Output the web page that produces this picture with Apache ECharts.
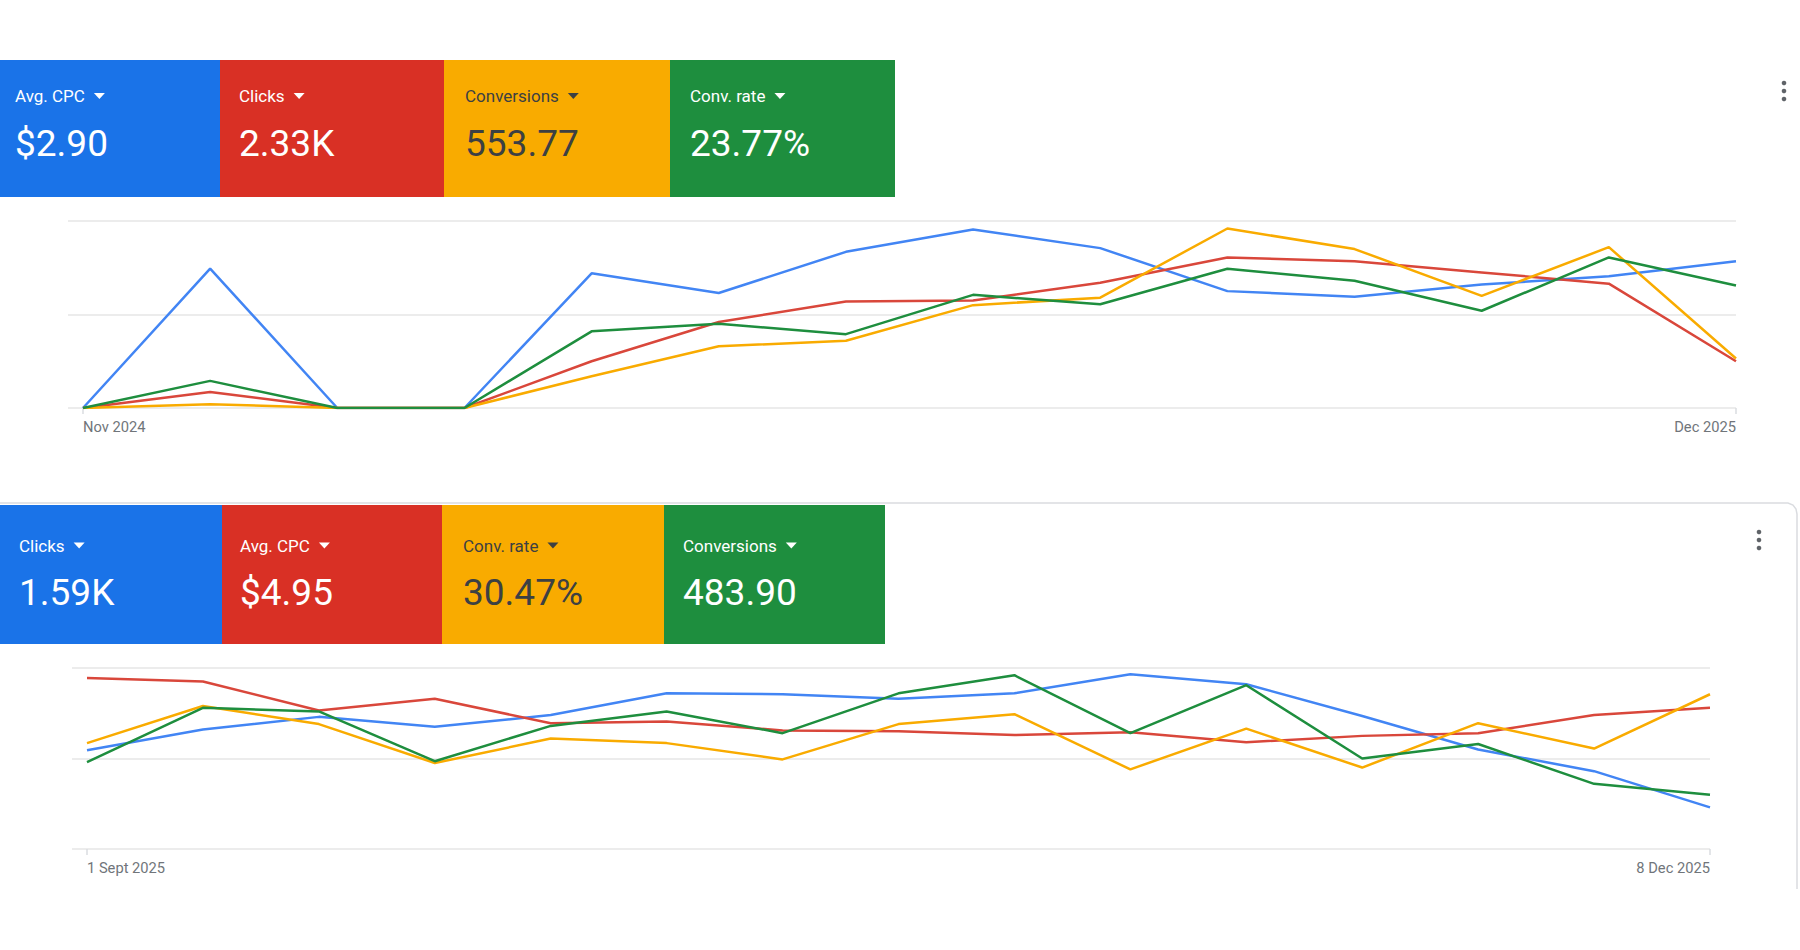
<!DOCTYPE html>
<html>
<head>
<meta charset="utf-8">
<script src="https://cdn.jsdelivr.net/npm/echarts@6/dist/echarts.min.js"></script>
<style>
  html, body { margin: 0; padding: 0; background: #ffffff; }
  #chart { width: 1800px; height: 950px; }
</style>
</head>
<body>
<div id="chart"></div>
<script>
// ---------- Top panel (monthly, Nov 2024 – Dec 2025), values relative to chart gridlines ----------
const topMonths = ["Nov 2024","Dec 2024","Jan 2025","Feb 2025","Mar 2025","Apr 2025","May 2025",
                   "Jun 2025","Jul 2025","Aug 2025","Sept 2025","Oct 2025","Nov 2025","Dec 2025"];
const topAvgCpc      = [0, 149, 0, 0, 144, 123, 167, 191, 171, 125, 119, 132, 141, 157];
const topClicks      = [0, 17, 0, 0, 50, 92, 114, 115, 134, 161, 157, 145, 133, 50];
const topConversions = [0, 4, 0, 0, 34, 66, 72, 110, 118, 192, 170, 120, 172, 53];
const topConvRate    = [0, 29, 0, 0, 82, 90, 79, 121, 111, 149, 136, 104, 161, 131];

const topCardLabels = ["Avg. CPC", "Clicks", "Conversions", "Conv. rate"];
const topCardValues = ["$2.90", "2.33K", "553.77", "23.77%"];

// ---------- Bottom panel (weekly, 1 Sept 2025 – 8 Dec 2025) ----------
const bottomWeeks = ["1 Sept 2025","8 Sept 2025","15 Sept 2025","22 Sept 2025","29 Sept 2025",
                     "6 Oct 2025","13 Oct 2025","20 Oct 2025","27 Oct 2025","3 Nov 2025",
                     "10 Nov 2025","17 Nov 2025","24 Nov 2025","1 Dec 2025","8 Dec 2025"];
const bottomClicks      = [109, 132, 146, 135, 148, 172, 171, 166, 172, 193, 182, 147, 110, 86, 46];
const bottomAvgCpc      = [189, 185, 153, 166, 139, 141, 131, 130, 126, 129, 118, 125, 128, 148, 156];
const bottomConvRate    = [117, 158, 138, 95, 122, 117, 99, 138, 149, 88, 133, 90, 139, 111, 171];
const bottomConversions = [96, 156, 152, 97, 136, 152, 128, 172, 192, 128, 181, 100, 116, 72, 60];

const bottomCardLabels = ["Clicks", "Avg. CPC", "Conv. rate", "Conversions"];
const bottomCardValues = ["1.59K", "$4.95", "30.47%", "483.90"];

// ---------- Styling ----------
const boxColors  = ["#1a73e8", "#d93025", "#f9ab00", "#1e8e3e"];
const boxText    = ["#ffffff", "#ffffff", "#3c4043", "#ffffff"];
const lineColors = { blue: "#4285f4", red: "#d9473b", yellow: "#f9ab00", green: "#1e8e3e" };
const FONT = "Roboto, 'Noto Sans', Arial, sans-serif";
const LABEL_SIZE = 17;

const measureCtx = document.createElement('canvas').getContext('2d');
function textWidth(t, size) {
  measureCtx.font = '400 ' + size + 'px ' + FONT;
  return measureCtx.measureText(t).width;
}

const chart = echarts.init(document.getElementById('chart'), null, { renderer: 'svg' });

function cards(edges, top, height, labelX, labelY, valueY, labels, values) {
  const els = [];
  for (let i = 0; i < 4; i++) {
    els.push({
      type: 'rect', shape: { x: edges[i], y: top, width: edges[i + 1] - edges[i], height: height },
      style: { fill: boxColors[i] }, z: 10
    });
    els.push({
      type: 'text', x: labelX[i], y: labelY, z: 11,
      style: {
        text: labels[i], fontFamily: FONT, fontSize: LABEL_SIZE, fontWeight: 400,
        fill: boxText[i], verticalAlign: 'middle', align: 'left'
      }
    });
    const tx = labelX[i] + textWidth(labels[i], LABEL_SIZE) + 9;
    els.push({
      type: 'polygon', z: 11,
      shape: { points: [[tx, labelY - 3], [tx + 11, labelY - 3], [tx + 5.5, labelY + 3]] },
      style: { fill: boxText[i] }
    });
    els.push({
      type: 'text', x: labelX[i], y: valueY, z: 11,
      style: {
        text: values[i], fontFamily: FONT, fontSize: 37, fontWeight: 400,
        fill: boxText[i], verticalAlign: 'middle', align: 'left'
      }
    });
  }
  return els;
}

function kebab(cx, cy) {
  return [-8, 0, 8].map(d => ({
    type: 'circle', shape: { cx: cx, cy: cy + d, r: 2.3 }, style: { fill: '#5f6368' }, z: 12
  }));
}

const graphics = [].concat(
  [{
    type: 'polyline', z: 1,
    shape: { points: [[0, 503], [1788, 503], [1793, 505], [1796, 509], [1797, 514], [1797, 889]] },
    style: { stroke: '#dadce0', lineWidth: 1.5, fill: null }
  }],
  cards([0, 220, 444, 670, 895], 60, 137, [15, 239, 465, 690], 96, 143.5, topCardLabels, topCardValues),
  cards([0, 222, 442, 664, 885], 505, 139, [19, 240, 463, 683], 545.5, 592, bottomCardLabels, bottomCardValues),
  kebab(1784, 91),
  kebab(1759, 540)
);

function firstOrLast(n) { return (idx) => idx === 0 || idx === n - 1; }

function dataXAxis(gridIndex, cats) {
  const sel = firstOrLast(cats.length);
  return {
    type: 'category', gridIndex: gridIndex, data: cats, boundaryGap: false,
    axisLine: { show: false },
    axisTick: { show: true, interval: sel, length: 6, lineStyle: { color: '#dadce0', width: 1.5 } },
    axisLabel: {
      interval: sel, margin: 11, fontFamily: FONT, fontSize: 14.7, color: '#70757a',
      alignMinLabel: 'left', alignMaxLabel: 'right'
    },
    splitLine: { show: false }
  };
}
function bgXAxis(gridIndex) {
  return { type: 'value', gridIndex: gridIndex, min: 0, max: 1, show: false };
}
function bgYAxis(gridIndex) {
  return {
    type: 'value', gridIndex: gridIndex, min: 0, max: 200, interval: 100,
    axisLine: { show: false }, axisTick: { show: false }, axisLabel: { show: false },
    splitLine: { show: true, lineStyle: { color: '#e6e6e6', width: 1.5 } }
  };
}
function dataYAxis(gridIndex) {
  return { type: 'value', gridIndex: gridIndex, min: 0, max: 200, interval: 100, show: false };
}
function line(name, data, color, xi, yi) {
  return {
    name: name, type: 'line', data: data, xAxisIndex: xi, yAxisIndex: yi,
    showSymbol: false, symbol: 'none', smooth: false, animation: false,
    lineStyle: { color: color, width: 2.5 }, itemStyle: { color: color }
  };
}

const option = {
  backgroundColor: '#ffffff',
  animation: false,
  graphic: graphics,
  grid: [
    { left: 68,   top: 221, width: 1736 - 68,  height: 187 },
    { left: 83,   top: 221, width: 1736 - 83,  height: 187 },
    { left: 72,   top: 668, width: 1710 - 72,  height: 181 },
    { left: 87,   top: 668, width: 1710 - 87,  height: 181 }
  ],
  xAxis: [ bgXAxis(0), dataXAxis(1, topMonths), bgXAxis(2), dataXAxis(3, bottomWeeks) ],
  yAxis: [ bgYAxis(0), dataYAxis(1), bgYAxis(2), dataYAxis(3) ],
  series: [
    line('Avg. CPC',    topAvgCpc,      lineColors.blue,   1, 1),
    line('Clicks',      topClicks,      lineColors.red,    1, 1),
    line('Conversions', topConversions, lineColors.yellow, 1, 1),
    line('Conv. rate',  topConvRate,    lineColors.green,  1, 1),
    line('Clicks',      bottomClicks,      lineColors.blue,   3, 3),
    line('Avg. CPC',    bottomAvgCpc,      lineColors.red,    3, 3),
    line('Conv. rate',  bottomConvRate,    lineColors.yellow, 3, 3),
    line('Conversions', bottomConversions, lineColors.green,  3, 3)
  ]
};
chart.setOption(option);
</script>
</body>
</html>
